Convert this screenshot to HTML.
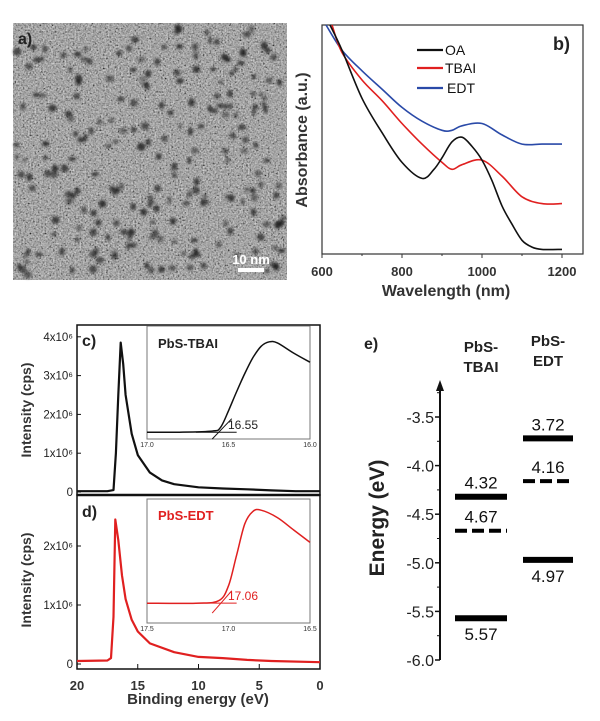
<!DOCTYPE html>
<html><head><meta charset="utf-8">
<style>
html,body{margin:0;padding:0;background:#fff;}
svg{display:block;font-family:"Liberation Sans",Arial,sans-serif;}
</style></head>
<body>
<svg id="fig" width="600" height="721" viewBox="0 0 600 721" xmlns="http://www.w3.org/2000/svg">
<defs>
<filter id="grain" x="0" y="0" width="100%" height="100%">
<feTurbulence type="fractalNoise" baseFrequency="0.6" numOctaves="2" seed="7" result="t"/>
<feColorMatrix in="t" type="matrix" values="0.9 0.9 0 0 -0.45  0.9 0.9 0 0 -0.45  0.9 0.9 0 0 -0.45  0 0 0 0 1"/>
</filter>
<filter id="blur1"><feGaussianBlur stdDeviation="1.3"/></filter>
</defs>

<!-- Panel a -->
<g>
<rect x="13" y="23" width="274" height="257" fill="#777"/>
<rect x="13" y="23" width="274" height="257" filter="url(#grain)" opacity="0.75"/>
<g id="dots" filter="url(#blur1)"></g>
<text x="18" y="44" font-size="16" font-weight="bold" fill="#222">a)</text>
<text x="251" y="264" font-size="13" font-weight="bold" fill="#fff" text-anchor="middle">10 nm</text>
<rect x="238" y="268" width="26" height="4" fill="#fff"/>
</g>

<!-- Panel b -->
<g id="pb">
<rect x="322" y="25" width="261" height="229" fill="none" stroke="#333" stroke-width="1.2"/>
<text x="553" y="50" font-size="18" font-weight="bold" fill="#222">b)</text>
<text transform="translate(307,140) rotate(-90)" font-size="16" font-weight="bold" fill="#333" text-anchor="middle">Absorbance (a.u.)</text>
<text x="446" y="296" font-size="16" font-weight="bold" fill="#333" text-anchor="middle">Wavelength (nm)</text>
<g>
<line x1="417" y1="50" x2="443" y2="50" stroke="#111" stroke-width="2.2"/>
<text x="445" y="55" font-size="14" fill="#111">OA</text>
<line x1="417" y1="68" x2="443" y2="68" stroke="#e02020" stroke-width="2.2"/>
<text x="445" y="73" font-size="14" fill="#111">TBAI</text>
<line x1="417" y1="88" x2="443" y2="88" stroke="#2a4aa8" stroke-width="2.2"/>
<text x="447" y="93" font-size="14" fill="#111">EDT</text>
</g>
</g>

<!-- Panels c,d -->
<g id="pcd">
<rect x="77" y="325" width="243" height="170" fill="none" stroke="#111" stroke-width="1.5"/>
<rect x="77" y="495" width="243" height="174" fill="none" stroke="#111" stroke-width="1.5"/>
<line x1="77" y1="495" x2="320" y2="495" stroke="#111" stroke-width="2.5"/>
<text x="82" y="346" font-size="16" font-weight="bold" fill="#222">c)</text>
<text x="82" y="517" font-size="16" font-weight="bold" fill="#222">d)</text>
<text transform="translate(31,410) rotate(-90)" font-size="14" font-weight="bold" fill="#333" text-anchor="middle">Intensity (cps)</text>
<text transform="translate(31,580) rotate(-90)" font-size="14" font-weight="bold" fill="#333" text-anchor="middle">Intensity (cps)</text>
<text x="198" y="704" font-size="15" font-weight="bold" fill="#333" text-anchor="middle">Binding energy (eV)</text>
<rect id="insetc" x="147" y="326" width="163" height="113" fill="#fff" stroke="#777"/>
<rect x="147" y="499" width="163" height="124" fill="#fff" stroke="#777"/>
<text x="158" y="348" font-size="13" font-weight="bold" fill="#222">PbS-TBAI</text>
<text x="158" y="520" font-size="13" font-weight="bold" fill="#e02020">PbS-EDT</text>
<text x="228" y="429" font-size="12" fill="#222">16.55</text>
<text x="228" y="600" font-size="12" fill="#e02020">17.06</text>
</g>

<!-- Panel e -->
<g id="pe">
<text x="364" y="349" font-size="16" font-weight="bold" fill="#222">e)</text>
<text x="481" y="352" font-size="15" font-weight="bold" fill="#222" text-anchor="middle">PbS-</text>
<text x="481" y="372" font-size="15" font-weight="bold" fill="#222" text-anchor="middle">TBAI</text>
<text x="548" y="346" font-size="15" font-weight="bold" fill="#222" text-anchor="middle">PbS-</text>
<text x="548" y="366" font-size="15" font-weight="bold" fill="#222" text-anchor="middle">EDT</text>
<line x1="440" y1="388" x2="440" y2="660" stroke="#111" stroke-width="2"/>
<polygon points="440,380 436,391 444,391" fill="#111"/>
<text transform="translate(384,518) rotate(-90)" font-size="21" font-weight="bold" fill="#222" text-anchor="middle">Energy (eV)</text>
</g>
</svg>

<script>
// ---------- Panel b data ----------
var oaWl   = [620,650,700,750,800,850,880,900,925,950,975,1000,1025,1050,1075,1100,1125,1150,1200];
var oaAbs  = [1.0,0.89,0.68,0.53,0.40,0.33,0.37,0.42,0.49,0.51,0.47,0.41,0.32,0.21,0.13,0.06,0.03,0.02,0.02];
var tbaiWl  = [625,650,700,750,800,850,900,925,950,1000,1050,1100,1150,1200];
var tbaiAbs = [1.0,0.88,0.76,0.67,0.57,0.48,0.40,0.37,0.39,0.41,0.34,0.25,0.22,0.22];
var edtWl  = [610,650,700,750,800,850,900,925,950,1000,1050,1100,1150,1200];
var edtAbs = [1.0,0.89,0.80,0.72,0.64,0.58,0.54,0.54,0.56,0.57,0.52,0.48,0.48,0.48];
var wlTicks = [600,800,1000,1200];

// ---------- Panel c/d data ----------
var cBE  = [20,17.5,17,16.8,16.6,16.4,16.2,16,15.5,15,14,13,12,10,8,6,4,2,0];
var cInt = [0.02,0.02,0.05,1.0,2.5,3.85,3.3,2.5,1.5,0.95,0.5,0.3,0.2,0.12,0.09,0.07,0.04,0.02,0.02];
var dBE  = [20,17.5,17.2,17,16.85,16.6,16.3,16,15.5,15,14,12,10,8,6,4,0];
var dInt = [0.05,0.06,0.1,0.8,2.45,2.1,1.5,1.1,0.75,0.55,0.35,0.2,0.12,0.1,0.07,0.05,0.03];
var cTicks = [0,1,2,3,4];
var cTickLabels = ["0","1x10⁶","2x10⁶","3x10⁶","4x10⁶"];
var dTicks = [0,1,2];
var dTickLabels = ["0","1x10⁶","2x10⁶"];
var beTicks = [20,15,10,5,0];
var insetCBE  = [17.0,16.8,16.6,16.55,16.5,16.45,16.4,16.35,16.3,16.25,16.2,16.1,16.0];
var insetCVal = [0.06,0.06,0.07,0.10,0.25,0.42,0.58,0.72,0.82,0.86,0.85,0.76,0.68];
var insetCTicks = [17.0,16.5,16.0];
var insetDBE  = [17.5,17.2,17.06,17.0,16.95,16.9,16.85,16.8,16.7,16.6,16.5];
var insetDVal = [0.16,0.16,0.18,0.30,0.55,0.80,0.90,0.91,0.85,0.75,0.65];
var insetDTicks = [17.5,17.0,16.5];

// ---------- Panel e data ----------
var eTicks = [-3.5,-4.0,-4.5,-5.0,-5.5,-6.0];
var tbaiLevels = [4.32,4.67,5.57];
var tbaiDashed = [false,true,false];
var tbaiLabelAbove = [true,true,false];
var edtLevels = [3.72,4.16,4.97];
var edtDashed = [false,true,false];
var edtLabelAbove = [true,true,false];

var NS="http://www.w3.org/2000/svg";
function mk(parent,tag,attrs){var e=document.createElementNS(NS,tag);for(var k in attrs)e.setAttribute(k,attrs[k]);parent.appendChild(e);return e;}
function curvePath(px,py){
  var n=px.length;
  var d='M'+px[0].toFixed(1)+','+py[0].toFixed(1);
  for(var i=0;i<n-1;i++){
    var a=Math.max(0,i-1), b=i, c=i+1, e=Math.min(n-1,i+2);
    var c1x=px[b]+(px[c]-px[a])/6, c1y=py[b]+(py[c]-py[a])/6;
    var c2x=px[c]-(px[e]-px[b])/6, c2y=py[c]-(py[e]-py[b])/6;
    d+=' C'+c1x.toFixed(1)+','+c1y.toFixed(1)+' '+c2x.toFixed(1)+','+c2y.toFixed(1)+' '+px[c].toFixed(1)+','+py[c].toFixed(1);
  }
  return d;
}

// Panel a particles (decorative texture, seeded)
try{(function(){
  var g=document.getElementById('dots');
  var s=12345;function r(){s=(s*1103515245+12345)%2147483648;return s/2147483648;}
  for(var i=0;i<230;i++){
    var c=mk(g,'ellipse',{cx:16+r()*268,cy:26+r()*251,rx:2+r()*2.2,ry:2+r()*2.2,fill:'#1e1e1e',opacity:0.5+r()*0.35});
    
    
  }
})();}catch(err){}

// Panel b
try{(function(){
  var g=document.getElementById('pb');
  var x=function(w){return 322+(w-600)*0.4;}, y=function(v){return 254-229*v;};
  wlTicks.forEach(function(t){
    var l=mk(g,'line',{x1:x(t),y1:254,x2:x(t),y2:258,stroke:'#333'});
    
    
    var tx=mk(g,'text',{x:x(t),y:276,'font-size':13,'font-weight':'bold',fill:'#333','text-anchor':'middle'});tx.textContent=t;
    
    
  });
  [700,900,1100].forEach(function(t){mk(g,'line',{x1:x(t),y1:254,x2:x(t),y2:256,stroke:'#333'});});
  function series(wl,ab,col,name){
    var p=mk(g,'path',{d:curvePath(wl.map(x),ab.map(y)),fill:'none',stroke:col,'stroke-width':1.6,'stroke-linejoin':'round'});
    
    
  }
  series(edtWl,edtAbs,'#2a4aa8','series-edt');
  series(tbaiWl,tbaiAbs,'#e02020','series-tbai');
  series(oaWl,oaAbs,'#111','series-oa');
})();}catch(err){}

// Panels c,d
try{(function(){
  var g=document.getElementById('pcd');
  var x=function(b){return 320-(b/20)*243;};
  var yc=function(v){return 492-38.8*v;}, yd=function(v){return 664-59*v;};
  beTicks.forEach(function(t){
    mk(g,'line',{x1:x(t),y1:669,x2:x(t),y2:664,stroke:'#111'});
    var tx=mk(g,'text',{x:x(t),y:690,'font-size':13,'font-weight':'bold',fill:'#333','text-anchor':'middle'});tx.textContent=t;
    
    
  });
  cTicks.forEach(function(t,i){
    mk(g,'line',{x1:77,y1:yc(t),x2:81,y2:yc(t),stroke:'#111'});
    var tx=mk(g,'text',{x:73,y:yc(t)+4,'font-size':11.5,fill:'#222','text-anchor':'end'});tx.textContent=cTickLabels[i];
    
    
  });
  dTicks.forEach(function(t,i){
    mk(g,'line',{x1:77,y1:yd(t),x2:81,y2:yd(t),stroke:'#111'});
    var tx=mk(g,'text',{x:73,y:yd(t)+4,'font-size':11.5,fill:'#222','text-anchor':'end'});tx.textContent=dTickLabels[i];
    
    
  });
  var insetRef=document.getElementById('insetc');
  function path(xs,ys,fx,fy,col,w,name){
    var d='';
    for(var i=0;i<xs.length;i++){d+=(i?'L':'M')+fx(xs[i]).toFixed(1)+','+fy(ys[i]).toFixed(1);}
    var p=mk(g,'path',{d:d,fill:'none',stroke:col,'stroke-width':w,'stroke-linejoin':'round'});
    
    
    g.insertBefore(p,insetRef);
  }
  path(cBE,cInt,x,yc,'#111',2.2,'spectrum-tbai');
  path(dBE,dInt,x,yd,'#e02020',2.2,'spectrum-edt');
  var ixc=function(b){return 147+(17.0-b)*163;}, iyc=function(v){return 439-113*v;};
  var ixd=function(b){return 147+(17.5-b)*163;}, iyd=function(v){return 623-124*v;};
  function ipath(xs,ys,fx,fy,col,name){
    var p=mk(g,'path',{d:curvePath(xs.map(fx),ys.map(fy)),fill:'none',stroke:col,'stroke-width':1.5});
    
    
  }
  ipath(insetCBE,insetCVal,ixc,iyc,'#111','inset-spectrum-tbai');
  ipath(insetDBE,insetDVal,ixd,iyd,'#e02020','inset-spectrum-edt');
  mk(g,'line',{x1:ixc(16.6),y1:iyc(0.0),x2:ixc(16.48),y2:iyc(0.18),stroke:'#111'});
  mk(g,'line',{x1:ixc(16.7),y1:iyc(0.06),x2:ixc(16.45),y2:iyc(0.06),stroke:'#111'});
  mk(g,'line',{x1:ixd(17.1),y1:iyd(0.08),x2:ixd(16.98),y2:iyd(0.26),stroke:'#e02020'});
  mk(g,'line',{x1:ixd(17.2),y1:iyd(0.16),x2:ixd(16.95),y2:iyd(0.16),stroke:'#e02020'});
  insetCTicks.forEach(function(t){var tx=mk(g,'text',{x:ixc(t),y:447,'font-size':7,fill:'#333','text-anchor':'middle'});tx.textContent=t.toFixed(1);
    
    });
  insetDTicks.forEach(function(t){var tx=mk(g,'text',{x:ixd(t),y:631,'font-size':7,fill:'#333','text-anchor':'middle'});tx.textContent=t.toFixed(1);
    
    });
})();}catch(err){}

// Panel e
try{(function(){
  var g=document.getElementById('pe');
  var y=function(e){return 417+(-3.5-e)*97.2;};
  eTicks.forEach(function(t){
    mk(g,'line',{x1:435,y1:y(t),x2:440,y2:y(t),stroke:'#111','stroke-width':1.5});
    mk(g,'line',{x1:437,y1:y(t+0.25),x2:440,y2:y(t+0.25),stroke:'#111'});
    var tx=mk(g,'text',{x:434,y:y(t)+6,'font-size':16,fill:'#222','text-anchor':'end'});tx.textContent=t.toFixed(1);
    
    
  });
  function levels(vals,dash,above,x1,x2,name){
    vals.forEach(function(v,i){
      var l=mk(g,'line',{x1:x1,y1:y(-v),x2:x2,y2:y(-v),stroke:'#000','stroke-width':dash[i]?4:6});
      if(dash[i])l.setAttribute('stroke-dasharray','12,5');
      
      
      var tx=mk(g,'text',{x:(x1+x2)/2,y:above[i]?y(-v)-8:y(-v)+22,'font-size':17,fill:'#111','text-anchor':'middle'});tx.textContent=v.toFixed(2);
      
      
    });
  }
  levels(tbaiLevels,tbaiDashed,tbaiLabelAbove,455,507,'tbai');
  levels(edtLevels,edtDashed,edtLabelAbove,523,573,'edt');
})();}catch(err){}
</script>
</body></html>
